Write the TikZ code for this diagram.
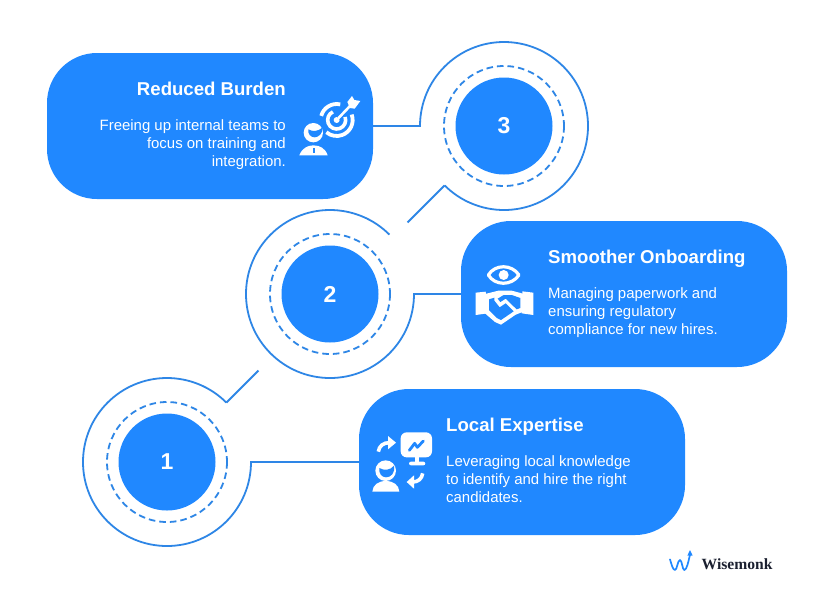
\documentclass[tikz,border=0pt]{standalone}
\usepackage{fontspec}
\setmainfont{Liberation Sans}
\newfontfamily\logofont{Liberation Serif}
\definecolor{boxblue}{HTML}{2088FF}
\definecolor{linkblue}{HTML}{2E86E6}
\definecolor{logoink}{HTML}{1B2030}
\tikzset{
  panel/.style={fill=boxblue,rounded corners=50pt,minimum width=326pt,minimum height=146pt,inner sep=0pt},
  disc/.style={circle,fill=boxblue,minimum size=97pt,inner sep=0pt,text=white,font=\bfseries\fontsize{23}{23}\selectfont},
  ringdash/.style={draw=linkblue,line width=1.8pt,dash pattern=on 6.6pt off 4pt},
  link/.style={draw=linkblue,line width=1.8pt,line join=miter},
  title/.style={text=white,inner sep=0pt,font=\bfseries\fontsize{18.6}{18.6}\selectfont},
  body/.style={text=white,inner sep=0pt,font=\fontsize{14.95}{18}\selectfont},
  icon/.style={fill=white,draw=none},
  iconcut/.style={fill=boxblue,draw=none},
  iconline/.style={draw=white,line cap=round,line join=round,fill=none},
  iconcutline/.style={draw=boxblue,line cap=round,line join=round,fill=none}
}
\begin{document}
\begin{tikzpicture}[x=1pt,y=-1pt]
\useasboundingbox (0,0) rectangle (834,598);
\fill[white] (0,0) rectangle (834,598);
% panels
\node[panel] (b3) at (210,126) {};
\node[panel] (b2) at (624,294) {};
\node[panel] (b1) at (522,462) {};
% discs
\node[disc] (c3) at (504,126) {3};
\node[disc] (c2) at (330,294) {2};
\node[disc] (c1) at (167,462) {1};
% dashed rings
\draw[ringdash] (c3.center) circle[radius=60];
\draw[ringdash] (c2.center) circle[radius=60];
\draw[ringdash] (c1.center) circle[radius=60];
% connectors with arcs
\coordinate (a3s) at ([xshift=-84pt]c3.center);
\coordinate (a2s) at ([xshift=84pt]c2.center);
\coordinate (a1s) at ([xshift=84pt]c1.center);
\draw[link] (b3.east) -- (a3s) arc[start angle=180,delta angle=315,radius=84] coordinate (a3e);
\draw[link] (b2.west) -- (a2s) arc[start angle=0,delta angle=315,radius=84] coordinate (a2e);
\draw[link] (b1.west) -- (a1s) arc[start angle=0,delta angle=315,radius=84] coordinate (a1e);
\path (a3e) ++(-37,37) coordinate (t3);
\draw[link] (a3e) -- (t3);
\path (a1e) ++(32,-32) coordinate (t1);
\draw[link] (a1e) -- (t1);
% texts
\node[title,anchor=base east] (h3) at (286,95) {Reduced Burden};
\node[body,anchor=north east,align=right] (p3) at (286,119.5) {Freeing up internal teams to\\focus on training and\\integration.};
\node[title,anchor=base west] (h2) at (548,263) {Smoother Onboarding};
\node[body,anchor=north west,align=left] (p2) at (548,287.5) {Managing paperwork and\\ensuring regulatory\\compliance for new hires.};
\node[title,anchor=base west] (h1) at (446,431) {Local Expertise};
\node[body,anchor=north west,align=left] (p1) at (446,455.5) {Leveraging local knowledge\\to identify and hire the right\\candidates.};
% icon: target and person
\begin{scope}[shift={(290,80)},scale=1/3]
  \fill[icon] (70,158) circle[radius=29];
  \fill[iconcut] (55,148) .. controls (68,156) and (85,154) .. (97,143) .. controls (100,160) and (85,172) .. (74,172) .. controls (62,172) and (53,162) .. (55,148) -- cycle;
  \fill[icon] (28,226) .. controls (36,205) and (52,196) .. (70,196) .. controls (90,196) and (106,205) .. (113,226) -- cycle;
  \fill[iconcut] (69,205) rectangle (74,218);
  \draw[iconline,line width=3.8pt,line cap=butt] (140,120) ++(195:48) arc[start angle=195,delta angle=88,radius=48];
  \draw[iconline,line width=3.8pt,line cap=butt] (140,120) ++(-20:48) arc[start angle=-20,delta angle=150,radius=48];
  \draw[iconline,line width=3.6pt,line cap=butt] (140,120) ++(-20:27) arc[start angle=-20,delta angle=265,radius=27];
  \fill[icon] (140,120) circle[radius=9];
  \draw[iconcutline,line width=4.8pt] (148,111) -- (178,78);
  \draw[iconline,line width=2.6pt] (140,120) -- (180,78);
  \fill[icon] (172,66) -- (186,48) -- (193,60) -- (211,63) -- (194,86) -- (180,84) -- cycle;
\end{scope}
% icon: eye and handshake
\begin{scope}[shift={(465,250)},scale=1/3]
  \draw[iconline,line width=3.2pt] (70,75) .. controls (90,42) and (140,42) .. (162,75) .. controls (140,108) and (90,108) .. (70,75) -- cycle;
  \fill[icon] (116,75) circle[radius=15];
  \fill[icon] (32,128) -- (62,125) -- (68,190) -- (32,195) -- cycle;
  \fill[icon] (172,124) -- (205,128) -- (205,195) -- (170,190) -- cycle;
  \fill[icon] (60,132) -- (100,122) -- (140,122) -- (178,132) -- (178,184) -- (152,194) -- (108,224) -- (90,216) -- (60,190) -- cycle;
  \fill[iconcut] (72,148) -- (88,143) -- (88,152) -- (104,172) -- (122,160) -- (146,184) -- (108,210) -- (96,204) -- (72,180) -- cycle;
  \fill[iconcut] (116,135) -- (140,135) -- (166,144) -- (166,174) -- (155,178) -- (122,146) -- (106,156) -- (98,146) -- cycle;
\end{scope}
% icon: monitor, arrows, person
\begin{scope}[shift={(360,420)},scale=1/3]
  \fill[icon,rounded corners=6pt] (122,37) rectangle (216,112);
  \draw[iconcutline,line width=2.8pt] (148,91) -- (164,70) -- (172,82) -- (190,63);
  \fill[icon] (166,110) rectangle (176,128);
  \fill[icon,rounded corners=2pt] (147,125) rectangle (196,136);
  \draw[iconline,line width=3.6pt,line cap=butt] (55,95) .. controls (57,78) and (70,68) .. (88,68);
  \fill[icon] (84,48) -- (108,68) -- (84,88) -- cycle;
  \draw[iconline,line width=3.6pt,line cap=butt] (188,160) .. controls (186,177) and (173,186) .. (158,186);
  \fill[icon] (162,166) -- (140,186) -- (162,206) -- cycle;
  \fill[icon] (77,152) circle[radius=31];
  \fill[iconcut] (58,144) .. controls (72,152) and (90,152) .. (102,137) .. controls (106,160) and (92,172) .. (78,172) .. controls (65,172) and (56,160) .. (58,144) -- cycle;
  \fill[icon] (37,215) .. controls (38,195) and (55,183) .. (77,183) .. controls (100,183) and (117,195) .. (118,215) -- cycle;
\end{scope}
% logo
\begin{scope}[shift={(665,550)},scale=1/3]
  \draw[draw=boxblue,line width=1.7pt,line join=round,line cap=round] (15,28) .. controls (20,45) and (24,60) .. (30,60) .. controls (36,60) and (38,30) .. (45,30) .. controls (51,30) and (52,60) .. (58,60) .. controls (65,60) and (70,35) .. (75,14);
  \fill[boxblue] (75,0) -- (83,17) -- (67,17) -- cycle;
\end{scope}
\node[anchor=west,inner sep=0pt,text=logoink,font=\logofont\bfseries\fontsize{15.6}{15.6}\selectfont] (logo) at (701.5,564) {Wisemonk};
\end{tikzpicture}
\end{document}
